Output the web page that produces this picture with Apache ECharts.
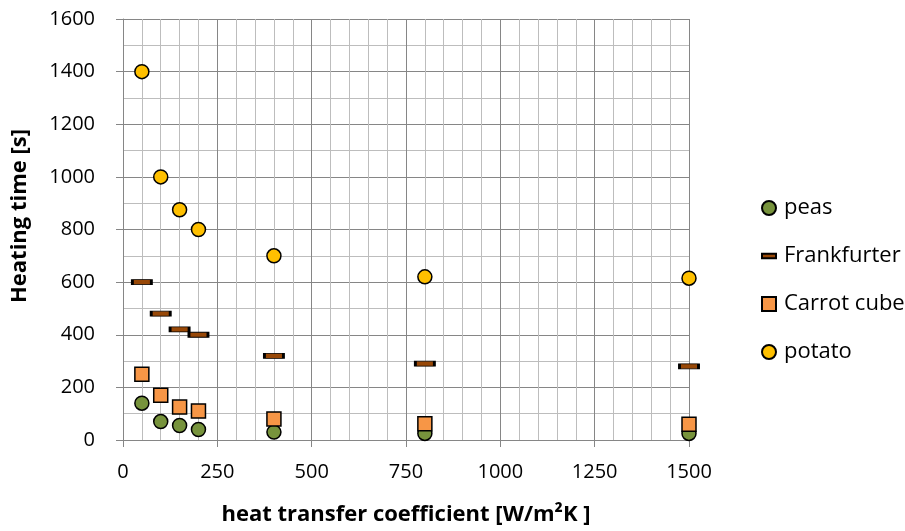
<!DOCTYPE html>
<html>
<head>
    <meta charset="utf-8">
    <title>Heating time</title>
    <script src="https://cdn.jsdelivr.net/npm/echarts@6.0.0/dist/echarts.min.js"></script>
    <style>
        body { margin: 0; padding: 0; background: #fff; overflow: hidden; }
        #chart { width: 905px; height: 531px; }
    </style>
</head>
<body>
    <div id="chart"></div>
    <script>
        // data
        const h = [50, 100, 150, 200, 400, 800, 1500];
        const peas = [140, 70, 55, 40, 30, 25, 25];
        const frankfurter = [600, 480, 420, 400, 320, 290, 280];
        const carrot = [250, 170, 125, 110, 80, 62, 60];
        const potato = [1400, 1000, 875, 800, 700, 620, 615];

        const font = 'Open Sans';
        const pair = ys => h.map((x, i) => [x, ys[i]]);
        const dash = 'path://M0,0H16V5H0Z';

        const chart = echarts.init(document.getElementById('chart'));

        function series(name, ys, color, symbol, size) {
            return {
                name: name,
                type: 'scatter',
                data: pair(ys),
                symbol: symbol,
                symbolSize: size,
                itemStyle: { color: color, borderColor: '#000', borderWidth: 1.5, opacity: 1 },
                emphasis: { disabled: true }
            };
        }

        chart.setOption({
            animation: false,
            textStyle: { fontFamily: font },
            grid: { left: 123, right: 216, top: 19, bottom: 89 },
            legend: {
                orient: 'vertical',
                left: 756,
                top: 192,
                itemWidth: 14,
                itemHeight: 14,
                itemGap: 26,
                textStyle: { fontFamily: font, fontSize: 22, color: '#000', padding: [0, 0, 0, 3] },
                data: [
                    { name: 'peas', icon: 'circle' },
                    { name: 'Frankfurter', icon: dash },
                    { name: 'Carrot cube', icon: 'rect' },
                    { name: 'potato', icon: 'circle' }
                ]
            },
            xAxis: {
                type: 'value',
                min: 0,
                max: 1500,
                interval: 250,
                name: 'heat transfer coefficient [W/m²K ]',
                nameLocation: 'middle',
                nameGap: 64,
                nameTextStyle: { fontFamily: font, fontSize: 22, fontWeight: 'bold', color: '#000' },
                axisLine: { onZero: false, lineStyle: { color: '#868686', width: 1 } },
                axisTick: { show: true, length: 7, lineStyle: { color: '#868686' } },
                axisLabel: { fontSize: 20, color: '#000', margin: 22, formatter: v => String(v) },
                splitLine: { show: true, lineStyle: { color: '#868686', width: 1 } },
                minorTick: { show: false, splitNumber: 5 },
                minorSplitLine: { show: true, lineStyle: { color: '#bdbdbd', width: 1 } }
            },
            yAxis: {
                type: 'value',
                min: 0,
                max: 1600,
                interval: 200,
                name: 'Heating time [s]',
                nameLocation: 'middle',
                nameGap: 92,
                nameTextStyle: { fontFamily: font, fontSize: 22, fontWeight: 'bold', color: '#000', padding: [0, 0, 0, 27] },
                axisLine: { show: true, lineStyle: { color: '#868686', width: 1 } },
                axisTick: { show: true, length: 7, lineStyle: { color: '#868686' } },
                axisLabel: { fontSize: 20, color: '#000', margin: 28, formatter: v => String(v) },
                splitLine: { show: true, lineStyle: { color: '#868686', width: 1 } },
                minorTick: { show: false, splitNumber: 2 },
                minorSplitLine: { show: true, lineStyle: { color: '#bdbdbd', width: 1 } }
            },
            series: [
                series('peas', peas, '#77933C', 'circle', 14),
                series('Frankfurter', frankfurter, '#984807', 'rect', [19, 5]),
                series('Carrot cube', carrot, '#F79646', 'rect', 14),
                series('potato', potato, '#FFC000', 'circle', 14)
            ]
        });
    </script>
</body>
</html>
